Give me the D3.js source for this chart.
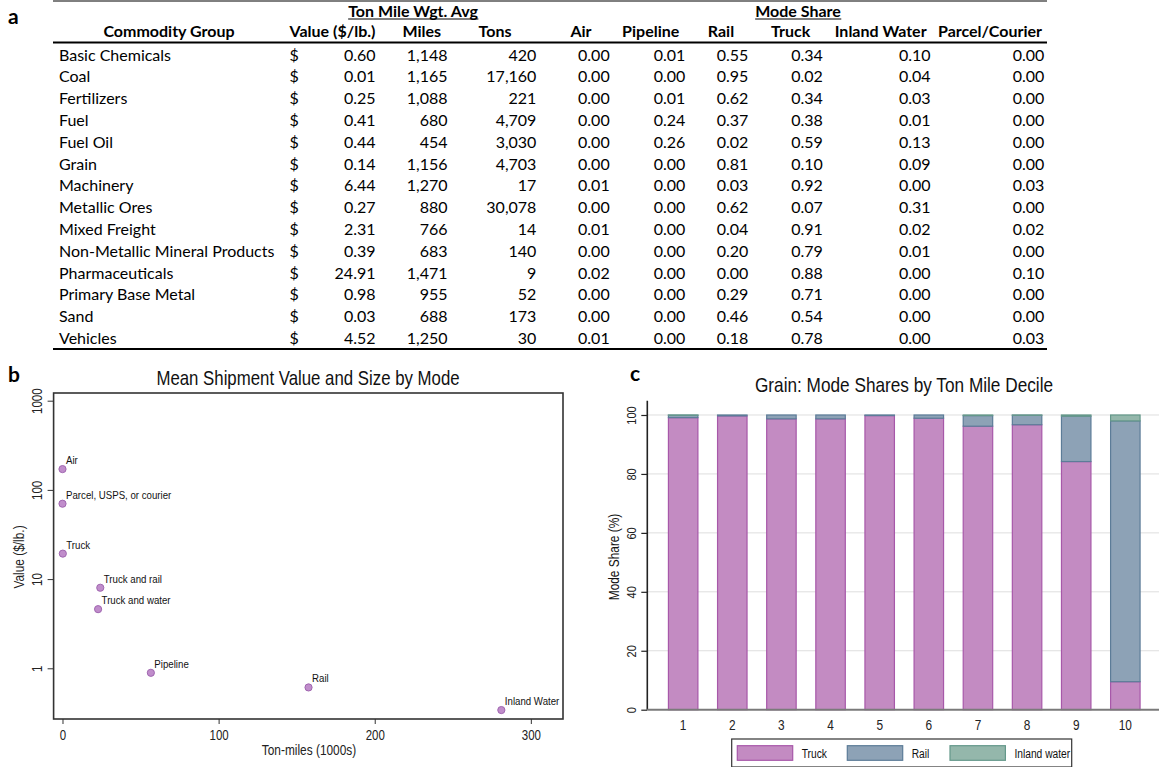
<!DOCTYPE html>
<html>
<head>
<meta charset="utf-8">
<script src="https://cdn.jsdelivr.net/npm/d3@7"></script>
<style>
  html, body { margin: 0; padding: 0; background: #fff; }
  svg { display: block; }
  .tbl { font-family: Lato, "Open Sans", sans-serif; font-size: 16px; fill: #000; }
  .tbl .hdr { font-weight: bold; }
  .narrow { font-family: "Liberation Sans Narrow", "Arial Narrow", "Liberation Sans", Arial, sans-serif; }
  .panel-letter { font-family: Lato, "Open Sans", sans-serif; font-weight: bold; font-size: 21px; }
</style>
</head>
<body>
<svg id="fig" width="1159" height="767"></svg>
<script>
// ---------- Panel a: commodity table ----------
const commodities = ["Basic Chemicals", "Coal", "Fertilizers", "Fuel", "Fuel Oil", "Grain", "Machinery",
  "Metallic Ores", "Mixed Freight", "Non-Metallic Mineral Products", "Pharmaceuticals",
  "Primary Base Metal", "Sand", "Vehicles"];
const valuePerLb = [0.60, 0.01, 0.25, 0.41, 0.44, 0.14, 6.44, 0.27, 2.31, 0.39, 24.91, 0.98, 0.03, 4.52];
const avgMiles = [1148, 1165, 1088, 680, 454, 1156, 1270, 880, 766, 683, 1471, 955, 688, 1250];
const avgTons = [420, 17160, 221, 4709, 3030, 4703, 17, 30078, 14, 140, 9, 52, 173, 30];
const shareAir = [0.00, 0.00, 0.00, 0.00, 0.00, 0.00, 0.01, 0.00, 0.01, 0.00, 0.02, 0.00, 0.00, 0.01];
const sharePipeline = [0.01, 0.00, 0.01, 0.24, 0.26, 0.00, 0.00, 0.00, 0.00, 0.00, 0.00, 0.00, 0.00, 0.00];
const shareRail = [0.55, 0.95, 0.62, 0.37, 0.02, 0.81, 0.03, 0.62, 0.04, 0.20, 0.00, 0.29, 0.46, 0.18];
const shareTruck = [0.34, 0.02, 0.34, 0.38, 0.59, 0.10, 0.92, 0.07, 0.91, 0.79, 0.88, 0.71, 0.54, 0.78];
const shareWater = [0.10, 0.04, 0.03, 0.01, 0.13, 0.09, 0.00, 0.31, 0.02, 0.01, 0.00, 0.00, 0.00, 0.00];
const shareParcel = [0.00, 0.00, 0.00, 0.00, 0.00, 0.00, 0.03, 0.00, 0.02, 0.00, 0.10, 0.00, 0.00, 0.03];

// ---------- Panel b: mean shipment value and size by mode ----------
const modes = ["Air", "Parcel, USPS, or courier", "Truck", "Truck and rail", "Truck and water",
  "Pipeline", "Rail", "Inland Water"];
const modeTonMiles = [0, 0, 0.2, 24.2, 22.8, 56.6, 157.6, 281.1];
const modeValue = [171, 70, 19.3, 8.0, 4.6, 0.89, 0.61, 0.34];
const valueTicks = [1, 10, 100, 1000];
const tonMileTicks = [0, 100, 200, 300];

// ---------- Panel c: grain mode shares by ton-mile decile ----------
const deciles = ["1", "2", "3", "4", "5", "6", "7", "8", "9", "10"];
const grainTruck = [99.1, 99.7, 98.7, 98.7, 99.8, 98.9, 96.2, 96.7, 84.2, 9.5];
const grainRail = [0.8, 0.3, 1.3, 1.3, 0.2, 1.1, 3.6, 3.2, 15.4, 88.5];
const grainWater = [0.1, 0.0, 0.0, 0.0, 0.0, 0.0, 0.2, 0.1, 0.4, 2.0];
const shareTicks = [0, 20, 40, 60, 80, 100];

const svg = d3.select("#fig");
// Horizontal squeeze used to get a condensed sans face for the chart text
const SQ = 0.82;

// Condensed text placed at (x, y), optionally rotated
function narrowText(parent, x, y, str, size, anchor, rot) {
  return parent.append("text")
    .attr("transform", `translate(${x},${y})${rot ? ` rotate(${rot})` : ""} scale(${SQ},1)`)
    .attr("text-anchor", anchor || "start")
    .attr("font-size", size).attr("fill", "#111").text(str);
}

// ================= TABLE =================
(function drawTable() {
  const g = svg.append("g").attr("class", "tbl");
  const lineX0 = 53, lineX1 = 1047;
  const rowBase0 = 60.5, rowStep = 21.8;

  g.append("text").attr("class", "panel-letter").attr("x", 8).attr("y", 24).text("a");

  g.append("line").attr("x1", lineX0).attr("x2", lineX1).attr("y1", 1).attr("y2", 1)
    .attr("stroke", "#000").attr("stroke-width", 1);
  g.append("line").attr("x1", lineX0).attr("x2", lineX1).attr("y1", 42.5).attr("y2", 42.5)
    .attr("stroke", "#000").attr("stroke-width", 2);
  const lastY = rowBase0 + rowStep * (commodities.length - 1) + 5;
  g.append("line").attr("x1", lineX0).attr("x2", lineX1).attr("y1", lastY).attr("y2", lastY)
    .attr("stroke", "#000").attr("stroke-width", 2);

  // Group headings, underlined
  const groups = [{ label: "Ton Mile Wgt. Avg", cx: 413 }, { label: "Mode Share", cx: 798 }];
  groups.forEach(gr => {
    const t = g.append("text").attr("class", "hdr").attr("x", gr.cx).attr("y", 16.5)
      .attr("text-anchor", "middle").text(gr.label);
    const bb = t.node().getBBox();
    g.append("line").attr("x1", bb.x).attr("x2", bb.x + bb.width).attr("y1", 19).attr("y2", 19)
      .attr("stroke", "#000").attr("stroke-width", 1.2);
  });

  const fmt2 = d3.format(".2f"), fmtInt = d3.format(",");
  const columns = [
    { head: "Value ($/lb.)", hx: 332.5, rx: 375.5, vals: valuePerLb, f: fmt2 },
    { head: "Miles", hx: 421.7, rx: 447.6, vals: avgMiles, f: fmtInt },
    { head: "Tons", hx: 495, rx: 536.4, vals: avgTons, f: fmtInt },
    { head: "Air", hx: 581, rx: 609.7, vals: shareAir, f: fmt2 },
    { head: "Pipeline", hx: 650.7, rx: 685.3, vals: sharePipeline, f: fmt2 },
    { head: "Rail", hx: 721, rx: 748.3, vals: shareRail, f: fmt2 },
    { head: "Truck", hx: 790.7, rx: 822.8, vals: shareTruck, f: fmt2 },
    { head: "Inland Water", hx: 880.7, rx: 930.5, vals: shareWater, f: fmt2 },
    { head: "Parcel/Courier", hx: 990, rx: 1044.3, vals: shareParcel, f: fmt2 }
  ];

  g.append("text").attr("class", "hdr").attr("x", 169).attr("y", 37)
    .attr("text-anchor", "middle").text("Commodity Group");
  columns.forEach(c => {
    g.append("text").attr("class", "hdr").attr("x", c.hx).attr("y", 37)
      .attr("text-anchor", "middle").text(c.head);
  });

  commodities.forEach((name, i) => {
    const y = rowBase0 + i * rowStep;
    g.append("text").attr("x", 59).attr("y", y).text(name);
    g.append("text").attr("x", 289.5).attr("y", y).text("$");
    columns.forEach(c => {
      g.append("text").attr("x", c.rx).attr("y", y).attr("text-anchor", "end").text(c.f(c.vals[i]));
    });
  });
})();

// ================= SCATTER =================
(function drawScatter() {
  const g = svg.append("g").attr("class", "narrow");
  const box = { left: 53.6, right: 563, top: 393, bottom: 719 };

  svg.append("text").attr("class", "panel-letter").attr("x", 8).attr("y", 382).text("b");

  const x = d3.scaleLinear().domain([-5.7, 320.6]).range([box.left, box.right]);
  const y = d3.scaleLog().domain([0.27, 1220]).range([box.bottom, box.top]);

  narrowText(g, 308, 385, "Mean Shipment Value and Size by Mode", 20.5, "middle");

  g.append("rect").attr("x", box.left).attr("y", box.top)
    .attr("width", box.right - box.left).attr("height", box.bottom - box.top)
    .attr("fill", "none").attr("stroke", "#333").attr("stroke-width", 1.6);

  const yAxis = g.append("g").attr("transform", `translate(${box.left},0)`)
    .call(d3.axisLeft(y).tickValues(valueTicks).tickFormat(d3.format("d")).tickSize(6).tickPadding(0));
  yAxis.select(".domain").remove();
  yAxis.selectAll(".tick line").attr("stroke", "#333");
  yAxis.selectAll(".tick text")
    .attr("font-size", 14).attr("fill", "#222").attr("font-family", null)
    .attr("text-anchor", "middle").attr("dy", null)
    .attr("transform", `translate(-16.5,0) rotate(-90) scale(${SQ},1)`).attr("x", 0).attr("y", 0)
    .attr("dominant-baseline", "central");

  const xAxis = g.append("g").attr("transform", `translate(0,${box.bottom})`)
    .call(d3.axisBottom(x).tickValues(tonMileTicks).tickFormat(d3.format("d")).tickSize(5).tickPadding(6));
  xAxis.select(".domain").remove();
  xAxis.selectAll(".tick line").attr("stroke", "#333");
  xAxis.selectAll(".tick text").attr("font-size", 14).attr("fill", "#222").attr("font-family", null)
    .attr("transform", `scale(${SQ},1)`);

  narrowText(g, 309, 755, "Ton-miles (1000s)", 14.5, "middle").attr("fill", "#222");
  narrowText(g, 24, 557, "Value ($/lb.)", 14.5, "middle", -90).attr("fill", "#222");

  const pts = modes.map((m, i) => ({ m, tx: modeTonMiles[i], v: modeValue[i] }));
  g.selectAll("circle.pt").data(pts).join("circle").attr("class", "pt")
    .attr("cx", d => x(d.tx)).attr("cy", d => y(d.v)).attr("r", 3.6)
    .attr("fill", "#c08dcb").attr("stroke", "#a066b0").attr("stroke-width", 1);
  pts.forEach(d => narrowText(g, x(d.tx) + 3.5, y(d.v) - 5, d.m, 11.8, "start"));
})();

// ================= STACKED BARS =================
(function drawBars() {
  const g = svg.append("g").attr("class", "narrow");
  const axisX = 647.3, right = 1159, y0 = 709.7, yTop = 400.7;

  svg.append("text").attr("class", "panel-letter").attr("x", 630).attr("y", 381).text("c");

  const x = d3.scaleBand().domain(deciles).range([658.6, 1149.9]).paddingInner(0.4).paddingOuter(0.2);
  const y = d3.scaleLinear().domain([0, 104.85]).range([y0, yTop]);

  narrowText(g, 904, 392, "Grain: Mode Shares by Ton Mile Decile", 21, "middle");

  // grid
  g.selectAll("line.grid").data(shareTicks.filter(t => t > 0)).join("line").attr("class", "grid")
    .attr("x1", axisX).attr("x2", right).attr("y1", d => y(d)).attr("y2", d => y(d))
    .attr("stroke", "#dedede").attr("stroke-width", 1);

  const series = [
    { key: "Truck", vals: grainTruck, fill: "#c38bc2", stroke: "#a758a9" },
    { key: "Rail", vals: grainRail, fill: "#8da2b6", stroke: "#5c7c98" },
    { key: "Inland water", vals: grainWater, fill: "#94b7ab", stroke: "#64988a" }
  ];
  const rows = deciles.map((d, i) => ({ d, Truck: grainTruck[i], Rail: grainRail[i], "Inland water": grainWater[i] }));
  const stacked = d3.stack().keys(series.map(s => s.key))(rows);

  stacked.forEach((layer, li) => {
    const s = series[li];
    g.append("g").selectAll("rect").data(layer.filter(p => p[1] - p[0] > 0)).join("rect")
      .attr("x", p => x(p.data.d)).attr("width", x.bandwidth())
      .attr("y", p => y(p[1])).attr("height", p => y(p[0]) - y(p[1]))
      .attr("fill", s.fill).attr("stroke", s.stroke).attr("stroke-width", 1.2);
  });

  // axes
  const yAxis = g.append("g").attr("transform", `translate(${axisX},0)`)
    .call(d3.axisLeft(y).tickValues(shareTicks).tickSize(6).tickPadding(0));
  yAxis.select(".domain").attr("stroke", "#222").attr("stroke-width", 1.6)
    .attr("d", `M0,${yTop}V${y0}`);
  yAxis.selectAll(".tick line").attr("stroke", "#222").attr("stroke-width", 1.2);
  yAxis.selectAll(".tick text")
    .attr("font-size", 13.5).attr("fill", "#222").attr("font-family", null)
    .attr("text-anchor", "middle").attr("dy", null)
    .attr("transform", `translate(-15.5,0) rotate(-90) scale(${SQ},1)`).attr("x", 0).attr("y", 0)
    .attr("dominant-baseline", "central");

  g.append("line").attr("x1", axisX).attr("x2", right).attr("y1", y0).attr("y2", y0)
    .attr("stroke", "#7a7a7a").attr("stroke-width", 2);

  const xAxis = g.append("g").attr("transform", `translate(0,${y0})`)
    .call(d3.axisBottom(x).tickSize(0).tickPadding(10));
  xAxis.select(".domain").remove();
  xAxis.selectAll(".tick text").attr("font-size", 14.5).attr("fill", "#222").attr("font-family", null)
    .attr("transform", `scale(${SQ},1)`);

  narrowText(g, 619, 557, "Mode Share (%)", 14.5, "middle", -90);

  // legend
  const lg = g.append("g");
  lg.append("rect").attr("x", 731.7).attr("y", 739).attr("width", 340).attr("height", 28)
    .attr("fill", "#fff").attr("stroke", "#333").attr("stroke-width", 1.2);
  const itemX = [737.3, 847.3, 950];
  series.forEach((s, i) => {
    lg.append("rect").attr("x", itemX[i]).attr("y", 745.7).attr("width", 55.4).attr("height", 14.6)
      .attr("fill", s.fill).attr("stroke", s.stroke).attr("stroke-width", 1.2);
    narrowText(lg, itemX[i] + 64.4, 757.5, s.key, 12.5, "start");
  });
})();
</script>
</body>
</html>
